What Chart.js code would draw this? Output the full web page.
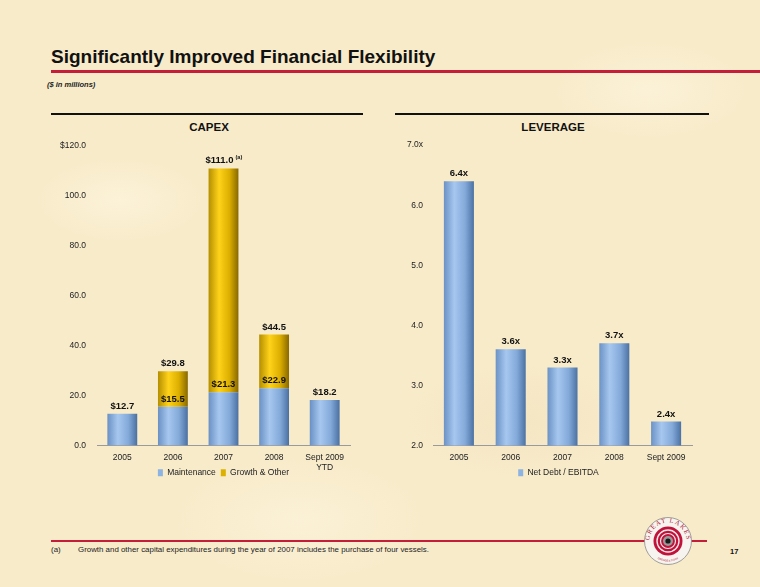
<!DOCTYPE html>
<html>
<head>
<meta charset="utf-8">
<script src="https://cdn.jsdelivr.net/npm/chart.js@4.4.1/dist/chart.umd.min.js"></script>
<style>
  html, body { margin: 0; padding: 0; }
  body {
    width: 760px; height: 587px; position: relative; overflow: hidden;
    font-family: 'Liberation Sans', Arial, sans-serif; color: #111;
    background-color: #f8ebca;
    background-image:
      radial-gradient(ellipse 120px 60px at 120px 200px, rgba(255,248,228,0.55), rgba(255,248,228,0) 70%),
      radial-gradient(ellipse 160px 80px at 520px 420px, rgba(240,222,186,0.45), rgba(240,222,186,0) 70%),
      radial-gradient(ellipse 140px 70px at 650px 90px, rgba(255,248,228,0.5), rgba(255,248,228,0) 70%),
      radial-gradient(ellipse 180px 90px at 300px 520px, rgba(255,248,228,0.45), rgba(255,248,228,0) 70%);
  }
  .abs { position: absolute; }
  #title { left: 51px; top: 47px; font-size: 19px; font-weight: bold; line-height: 19px; white-space: nowrap; }
  #titleRule { left: 51px; top: 70px; width: 709px; height: 3px; background: #c41e3a; }
  #subtitle { left: 47px; top: 80px; font-size: 7.5px; font-weight: bold; font-style: italic; line-height: 9px; color: #222; }
  .rule { top: 113px; height: 2px; background: #111; }
  .ctitle { top: 120px; font-size: 11.5px; font-weight: bold; line-height: 14px; text-align: center; }
  canvas { position: absolute; }
  #footRule { left: 51px; top: 540px; width: 656px; height: 2px; background: #c41e3a; }
  #footnote { left: 51px; top: 545px; font-size: 7.9px; line-height: 10px; color: #222; white-space: nowrap; }
  #footnote span { display: inline-block; width: 27px; }
  #pageNum { left: 730px; top: 547px; font-size: 7.5px; font-weight: bold; line-height: 10px; }
</style>
</head>
<body>
<div id="title" class="abs">Significantly Improved Financial Flexibility</div>
<div id="titleRule" class="abs"></div>
<div id="subtitle" class="abs">($ in millions)</div>

<div class="abs rule" style="left:51px;width:312px"></div>
<div class="abs rule" style="left:395px;width:314px"></div>
<div class="abs ctitle" style="left:159px;width:100px">CAPEX</div>
<div class="abs ctitle" style="left:503px;width:100px">LEVERAGE</div>

<canvas id="capexChart" width="367" height="357" style="left:40px;top:130px"></canvas>
<canvas id="levChart" width="357" height="357" style="left:380px;top:130px"></canvas>

<div id="footRule" class="abs"></div>
<div id="footnote" class="abs"><span>(a)</span>Growth and other capital expenditures during the year of 2007 includes the purchase of four vessels.</div>
<div id="pageNum" class="abs">17</div>

<svg class="abs" style="left:643px;top:516px" width="50" height="50" viewBox="-25 -25 50 50">
  <defs>
    <path id="arcTop" d="M -18.5 0 A 18.5 18.5 0 0 1 18.5 0"/>
    <path id="arcBot" d="M -20.5 0 A 20.5 20.5 0 0 0 20.5 0"/>
  </defs>
  <circle r="23.5" fill="#f7f3ee" stroke="#8a8a8a" stroke-width="0.8"/>
  <text font-family="Liberation Serif, serif" font-size="6.5" fill="#b0102e" letter-spacing="1.2">
    <textPath href="#arcTop" startOffset="50%" text-anchor="middle">GREAT LAKES</textPath>
  </text>
  <text font-family="Liberation Sans, sans-serif" font-size="2.6" fill="#b0102e">
    <textPath href="#arcBot" startOffset="50%" text-anchor="middle">DREDGE &amp; DOCK</textPath>
  </text>
  <circle r="14.5" fill="#c0123a"/>
  <circle r="11" fill="none" stroke="#f4e8e8" stroke-width="1.4"/>
  <circle r="7.5" fill="none" stroke="#f4e8e8" stroke-width="1.2"/>
  <circle r="5" fill="#9a9a9a"/>
  <circle r="2.6" fill="#1a1a1a"/>
</svg>

<script>
// CAPEX ($ in millions)
const capexYears = ['2005', '2006', '2007', '2008', ['Sept 2009', 'YTD']];
const maintenance = [12.7, 15.5, 21.3, 22.9, 18.2];
const growthOther = [0, 14.3, 89.7, 21.6, 0];
const capexTotals = [12.7, 29.8, 111.0, 44.5, 18.2];
const capexTicks = ['0.0', '20.0', '40.0', '60.0', '80.0', '100.0', '$120.0'];

// Leverage (net debt / EBITDA)
const levYears = ['2005', '2006', '2007', '2008', 'Sept 2009'];
const netDebtEbitda = [6.4, 3.6, 3.3, 3.7, 2.4];
const levTicks = ['2.0', '3.0', '4.0', '5.0', '6.0', '7.0x'];

const BAR_PCT = 0.59;
const BLUE = '#8db3e2';
const GOLD = '#dcb000';
const blueStops = [[0, '#6a91c4'], [0.35, '#a6c7ef'], [0.7, '#84aada'], [1, '#4a6fa2']];
const goldStops = [[0, '#b48e00'], [0.35, '#ffd21a'], [0.7, '#dcae00'], [1, '#886800']];

// cylinder-style shading across each bar, placed from the x scale
function barFill(stops, solid, count) {
    return function (c) {
        const ch = c.chart;
        const xs = ch.scales ? ch.scales.x : null;
        if (!xs || c.dataIndex === undefined) return solid;
        const cx = xs.getPixelForValue(c.dataIndex);
        const half = xs.width / count * BAR_PCT / 2;
        if (!isFinite(cx) || !isFinite(half) || half <= 0) return solid;
        const g = ch.ctx.createLinearGradient(cx - half, 0, cx + half, 0);
        stops.forEach(s => g.addColorStop(s[0], s[1]));
        return g;
    };
}

// legend swatches use flat colours (the bar gradients are tied to bar positions)
function flatLegend(colors) {
    return chart => Chart.defaults.plugins.legend.labels.generateLabels(chart)
        .map((item, i) => Object.assign(item, { fillStyle: colors[i], strokeStyle: colors[i], lineWidth: 0 }));
}

// value labels drawn above each bar segment
const valueLabels = {
    id: 'valueLabels',
    afterDatasetsDraw(chart, args, opts) {
        const ctx = chart.ctx;
        ctx.save();
        ctx.fillStyle = '#111';
        ctx.textAlign = 'center';
        ctx.textBaseline = 'middle';
        chart.data.datasets.forEach((ds, i) => {
            chart.getDatasetMeta(i).data.forEach((bar, j) => {
                const lab = opts.text(i, j);
                if (!lab) return;
                ctx.font = 'bold 9.5px "Liberation Sans", Arial, sans-serif';
                if (lab.sup) {
                    ctx.textAlign = 'right';
                    ctx.fillText(lab.text, bar.x + 10, bar.y - 8);
                    ctx.textAlign = 'left';
                    ctx.font = 'bold 5.5px "Liberation Sans", Arial, sans-serif';
                    ctx.fillText(lab.sup, bar.x + 12, bar.y - 11);
                    ctx.textAlign = 'center';
                } else {
                    ctx.fillText(lab.text, bar.x, bar.y - 7.5);
                }
            });
        });
        ctx.restore();
    }
};

// the x axis is kept short so the legend sits beside the 2nd tick line;
// widen its clip box afterwards so that line ("YTD") is still drawn
const tallTicks = {
    id: 'tallTicks',
    afterLayout(chart) { chart.scales.x.bottom += 16; }
};

const tickFont = { family: '"Liberation Sans", Arial, sans-serif', size: 8.5 };

// an empty right-hand axis keeps the plot off-centre while the legend stays centred
function spacerAxis(w) {
    return {
        position: 'right',
        display: true,
        grid: { display: false, drawTicks: false },
        border: { display: false },
        ticks: { display: false },
        afterFit: s => { s.width = w; }
    };
}

new Chart(document.getElementById('capexChart'), {
    type: 'bar',
    data: {
        labels: capexYears,
        datasets: [{
            label: 'Maintenance',
            data: maintenance,
            backgroundColor: barFill(blueStops, BLUE, capexYears.length),
            barPercentage: BAR_PCT,
            categoryPercentage: 1
        }, {
            label: 'Growth & Other',
            data: growthOther,
            backgroundColor: barFill(goldStops, GOLD, capexYears.length),
            barPercentage: BAR_PCT,
            categoryPercentage: 1
        }]
    },
    options: {
        responsive: false,
        animation: false,
        layout: { padding: { top: 13, right: 0, left: 0, bottom: 0 } },
        scales: {
            x: {
                stacked: true,
                grid: { display: false, drawTicks: false },
                border: { display: true, color: '#9a9a9a', width: 1 },
                ticks: { font: tickFont, color: '#222', padding: 7, maxRotation: 0, autoSkip: false },
                afterFit: s => { s.height = 18; }
            },
            y: {
                stacked: true,
                min: 0, max: 120,
                grid: { display: false, drawTicks: false },
                border: { display: false },
                ticks: { stepSize: 20, font: tickFont, color: '#222', padding: 11,
                         callback: (v, i) => capexTicks[i] },
                afterFit: s => { s.width = 57; }
            },
            pad: spacerAxis(57)
        },
        plugins: {
            legend: {
                position: 'bottom',
                labels: { boxWidth: 5, boxHeight: 7, padding: 5, font: tickFont, color: '#222',
                          generateLabels: flatLegend([BLUE, GOLD]) }
            },
            tooltip: { enabled: false },
            valueLabels: {
                text: (i, j) => {
                    if (i === 0) return { text: '$' + maintenance[j].toFixed(1) };
                    if (growthOther[j] <= 0) return null;
                    const t = '$' + capexTotals[j].toFixed(1);
                    return j === 2 ? { text: t, sup: '(a)' } : { text: t };
                }
            }
        }
    },
    plugins: [valueLabels, tallTicks]
});

new Chart(document.getElementById('levChart'), {
    type: 'bar',
    data: {
        labels: levYears,
        datasets: [{
            label: 'Net Debt / EBITDA',
            data: netDebtEbitda,
            backgroundColor: barFill(blueStops, BLUE, levYears.length),
            barPercentage: 0.58,
            categoryPercentage: 1
        }]
    },
    options: {
        responsive: false,
        animation: false,
        layout: { padding: { top: 13, right: 0, left: 0, bottom: 0 } },
        scales: {
            x: {
                grid: { display: false, drawTicks: false },
                border: { display: true, color: '#9a9a9a', width: 1 },
                ticks: { font: tickFont, color: '#222', padding: 7, maxRotation: 0, autoSkip: false },
                afterFit: s => { s.height = 18; }
            },
            y: {
                min: 2, max: 7,
                grid: { display: false, drawTicks: false },
                border: { display: false },
                ticks: { stepSize: 1, font: tickFont, color: '#222', padding: 10,
                         callback: (v, i) => levTicks[i] },
                afterFit: s => { s.width = 53; }
            },
            pad: spacerAxis(45)
        },
        plugins: {
            legend: {
                position: 'bottom',
                labels: { boxWidth: 5, boxHeight: 7, padding: 5, font: tickFont, color: '#222',
                          generateLabels: flatLegend([BLUE]) }
            },
            tooltip: { enabled: false },
            valueLabels: {
                text: (i, j) => ({ text: netDebtEbitda[j].toFixed(1) + 'x' })
            }
        }
    },
    plugins: [valueLabels]
});
</script>
</body>
</html>
